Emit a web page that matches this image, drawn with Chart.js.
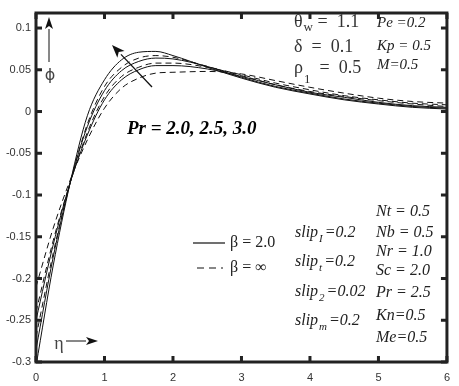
<!DOCTYPE html>
<html><head><meta charset="utf-8">
<script src="https://cdn.jsdelivr.net/npm/chart.js@4/dist/chart.umd.min.js"></script>
<style>html,body{margin:0;padding:0;background:#fff;overflow:hidden}#c{display:block}</style>
</head><body><canvas id="c" width="459" height="386"></canvas>
<script>
const eta = [0, 0.25, 0.5, 0.75, 1.0, 1.25, 1.5, 1.75, 2.0, 2.5, 3.0, 3.5, 4.0, 4.5, 5.0, 5.5, 6.0];
// beta = 2.0 (solid)
const solidPr30 = [-0.305, -0.185, -0.085, -0.005, 0.038, 0.062, 0.071, 0.072, 0.067, 0.053, 0.040, 0.029, 0.021, 0.014, 0.009, 0.005, 0.003];
const solidPr25 = [-0.285, -0.175, -0.085, -0.018, 0.025, 0.049, 0.060, 0.064, 0.063, 0.054, 0.041, 0.030, 0.022, 0.015, 0.010, 0.006, 0.004];
const solidPr20 = [-0.250, -0.160, -0.085, -0.028, 0.014, 0.038, 0.050, 0.055, 0.055, 0.051, 0.042, 0.032, 0.023, 0.017, 0.011, 0.007, 0.005];
// beta = infinity (dashed)
const dashPr30 = [-0.270, -0.170, -0.085, -0.015, 0.030, 0.053, 0.064, 0.067, 0.065, 0.054, 0.043, 0.032, 0.024, 0.018, 0.013, 0.009, 0.006];
const dashPr25 = [-0.240, -0.155, -0.085, -0.025, 0.018, 0.042, 0.053, 0.058, 0.058, 0.053, 0.044, 0.034, 0.026, 0.019, 0.014, 0.010, 0.008];
const dashPr20 = [-0.210, -0.140, -0.082, -0.034, 0.004, 0.028, 0.040, 0.046, 0.047, 0.048, 0.045, 0.037, 0.029, 0.022, 0.016, 0.012, 0.010];
const xTicks = [0, 1, 2, 3, 4, 5, 6];
const yTicks = [-0.3, -0.25, -0.2, -0.15, -0.1, -0.05, 0, 0.05, 0.1];
const yTickLabels = ['-0.3', '-0.25', '-0.2', '-0.15', '-0.1', '-0.05', '0', '0.05', '0.1'];

function mk(arr, dashed) {
  return {
    data: eta.map((x, i) => ({x: x, y: arr[i]})),
    borderColor: '#111', borderWidth: 1, pointRadius: 0,
    borderDash: dashed ? [6, 4] : [], cubicInterpolationMode: 'monotone', fill: false
  };
}

const deco = {
  id: 'deco',
  afterDraw(chart) {
    const ctx = chart.ctx, a = chart.chartArea;
    const xs = chart.scales.x, ys = chart.scales.y;
    ctx.save();
    ctx.strokeStyle = '#222'; ctx.lineWidth = 3;
    ctx.strokeRect(a.left, a.top, a.right - a.left, a.bottom - a.top);
    ctx.fillStyle = '#222';
    xTicks.forEach(v => {
      const p = xs.getPixelForValue(v);
      ctx.fillRect(p - 1.5, a.bottom - 6, 3, 6);
      ctx.fillRect(p - 1.5, a.top, 3, 6);
    });
    yTicks.forEach(v => {
      const p = ys.getPixelForValue(v);
      ctx.fillRect(a.left, p - 1.5, 6, 3);
      ctx.fillRect(a.right - 6, p - 1.5, 6, 3);
    });
    function arrow(x1, y1, x2, y2, lw, hl, hw, col) {
      ctx.strokeStyle = col; ctx.fillStyle = col; ctx.lineWidth = lw;
      const ang = Math.atan2(y2 - y1, x2 - x1);
      const bx = x2 - hl * Math.cos(ang), by = y2 - hl * Math.sin(ang);
      ctx.beginPath(); ctx.moveTo(x1, y1); ctx.lineTo(bx, by); ctx.stroke();
      ctx.beginPath(); ctx.moveTo(x2, y2);
      ctx.lineTo(bx + hw * Math.sin(ang), by - hw * Math.cos(ang));
      ctx.lineTo(bx + hl*0.25*Math.cos(ang), by + hl*0.25*Math.sin(ang));
      ctx.lineTo(bx - hw * Math.sin(ang), by + hw * Math.cos(ang));
      ctx.closePath(); ctx.fill();
    }
    arrow(49, 62, 49, 17, 1, 12, 4, '#111');
    arrow(66, 341, 98, 341, 1, 12, 4, '#111');
    arrow(152, 87, 112, 45, 1.3, 13, 5, '#111');
    ctx.fillStyle = '#444'; ctx.textBaseline = 'middle'; ctx.textAlign = 'center';
    ctx.font = '16px "DejaVu Sans", sans-serif';
    ctx.fillText('\u03D5', 50, 76);
    ctx.font = '18px "Liberation Serif", serif';
    ctx.fillText('\u03B7', 59, 344);
    ctx.textAlign = 'left';
    const serif = '"Liberation Serif", serif';
    function sub(main, s, rest, x, y, size, style, dy, gap) {
      ctx.font = style + ' ' + size + 'px ' + serif;
      ctx.fillText(main, x, y);
      let w = ctx.measureText(main).width;
      ctx.font = style + ' ' + Math.round(size * 0.7) + 'px ' + serif;
      ctx.fillText(s, x + w + 1, y + (dy || size * 0.35));
      let w2 = ctx.measureText(s).width;
      ctx.font = style + ' ' + size + 'px ' + serif;
      ctx.fillText(rest, x + w + w2 + (gap || 2), y);
    }
    ctx.fillStyle = '#333';
    sub('\u03B8', 'w', ' =  1.1', 294, 22, 18, '', 6, 1);
    ctx.font = '18px ' + serif;
    ctx.fillText('\u03B4  =  0.1', 294, 47);
    sub('\u03C1', '1', '  =  0.5', 294, 68, 18, '', 12, 1);
    ctx.fillStyle = '#222';
    ctx.font = 'italic 15px ' + serif;
    ctx.fillText('Pe =0.2', 377, 23);
    ctx.fillText('Kp = 0.5', 377, 46);
    ctx.fillText('M=0.5', 377, 65);
    ctx.font = 'bold italic 19px ' + serif;
    ctx.fillStyle = '#000';
    ctx.fillText('Pr = 2.0, 2.5, 3.0', 127, 129);
    ctx.strokeStyle = '#111'; ctx.lineWidth = 1.2;
    ctx.beginPath(); ctx.moveTo(193, 243); ctx.lineTo(225, 243); ctx.stroke();
    ctx.setLineDash([7, 5]);
    ctx.beginPath(); ctx.moveTo(197, 268); ctx.lineTo(223, 268); ctx.stroke();
    ctx.setLineDash([]);
    ctx.fillStyle = '#222';
    ctx.font = '16px ' + serif;
    ctx.fillText('\u03B2 = 2.0', 230, 243);
    ctx.fillText('\u03B2 = \u221E', 230, 268);
    sub('slip', 'I', '=0.2', 295, 233, 16, 'italic', 6, 3);
    sub('slip', 't', '=0.2', 295, 262, 16, 'italic', 6, 3);
    sub('slip', '2', '=0.02', 295, 292, 16, 'italic', 6, 3);
    sub('slip', 'm', '=0.2', 295, 321, 16, 'italic', 6, 3);
    ctx.font = 'italic 16px ' + serif;
    const rc = ['Nt = 0.5', 'Nb = 0.5', 'Nr = 1.0', 'Sc = 2.0', 'Pr = 2.5', 'Kn=0.5', 'Me=0.5'];
    const ry = [212, 233, 252, 271, 293, 316, 338];
    rc.forEach((t, i) => ctx.fillText(t, 376, ry[i]));
    ctx.restore();
  }
};

new Chart(document.getElementById('c'), {
  type: 'line',
  data: { datasets: [mk(solidPr30, false), mk(solidPr25, false), mk(solidPr20, false), mk(dashPr30, true), mk(dashPr25, true), mk(dashPr20, true)] },
  options: {
    responsive: false, maintainAspectRatio: false, animation: false, devicePixelRatio: 1,
    layout: { padding: { top: 13, right: 7, left: 0, bottom: 0 } },
    plugins: { legend: { display: false }, tooltip: { enabled: false } },
    scales: {
      x: {
        type: 'linear', min: 0, max: 6,
        afterBuildTicks: s => { s.ticks = xTicks.map(v => ({value: v})); },
        afterFit: s => { s.height = 24; },
        grid: { display: false, drawTicks: false }, border: { display: false },
        ticks: { color: '#333', font: { family: '"Liberation Sans", Arial, sans-serif', size: 11 }, padding: 9, maxRotation: 0,
          callback: v => String(v) }
      },
      y: {
        type: 'linear', min: -0.3, max: 0.118,
        afterBuildTicks: s => { s.ticks = yTicks.map(v => ({value: v})); },
        afterFit: s => { s.width = 36; },
        grid: { display: false, drawTicks: false }, border: { display: false },
        ticks: { color: '#333', font: { family: '"Liberation Sans", Arial, sans-serif', size: 11 }, padding: 5,
          callback: (v, i) => yTickLabels[i] }
      }
    }
  },
  plugins: [deco]
});
</script></body></html>
